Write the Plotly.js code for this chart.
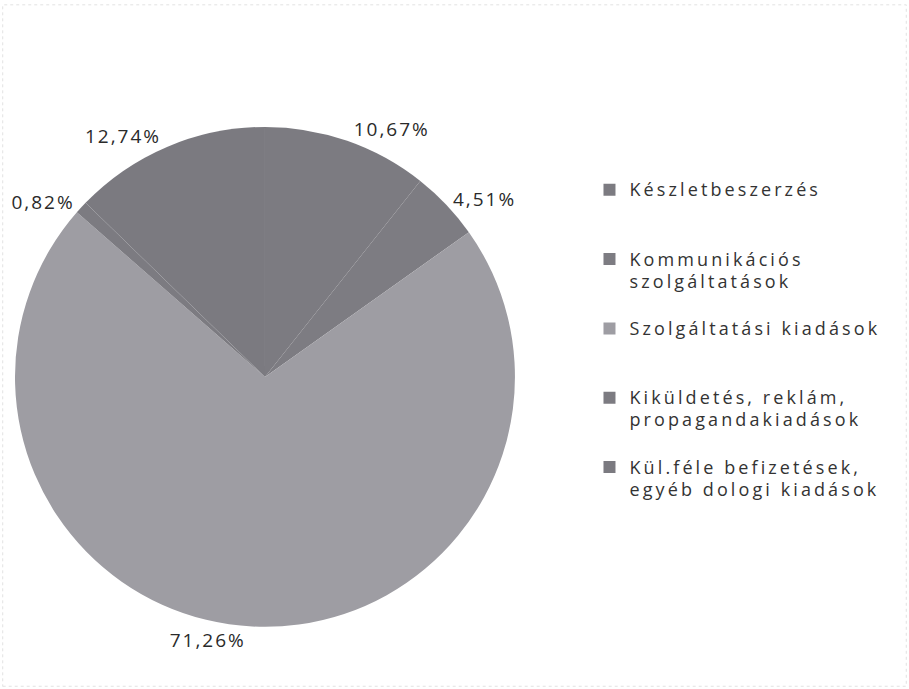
<!DOCTYPE html>
<html>
<head>
<meta charset="utf-8">
<script src="https://cdn.plot.ly/plotly-3.0.1.min.js"></script>
<style>
html,body{margin:0;padding:0;background:#fff;}
#chart{width:909px;height:689px;}
.legendtext{letter-spacing:3.1px;}
text.slicetext{letter-spacing:2px;}
</style>
</head>
<body>
<div id="chart"></div>
<script>
const categories = [
  "Készletbeszerzés",
  "Kommunikációs<br>szolgáltatások",
  "Szolgáltatási kiadások",
  "Kiküldetés, reklám,<br>propagandakiadások",
  "Kül.féle befizetések,<br>egyéb dologi kiadások"
];
const shares = [10.67, 4.51, 71.26, 0.82, 12.74];
const sliceColors = ["#7c7b81", "#7d7c82", "#9e9da3", "#7c7b81", "#7b7a80"];

// pad every legend entry to three text lines so the entries are spread like the original
const legendLabels = categories.map(function (c) {
  const parts = c.split("<br>");
  let s = parts.map(function (p) { return "<span style=\"font-size:18px\">" + p + "</span>"; }).join("<br>");
  for (let i = parts.length; i < 3; i++) s += "<br>\u00a0";
  return s;
});

const trace = {
  type: "pie",
  labels: legendLabels,
  values: shares,
  sort: false,
  direction: "clockwise",
  rotation: 0,
  marker: {colors: sliceColors, line: {width: 0}},
  textposition: "outside",
  texttemplate: "%{value:.2f}%",
  outsidetextfont: {family: "Open Sans, DejaVu Sans, sans-serif", size: 19, color: "#2a2a2a"},
  hoverinfo: "percent",
  domain: {x: [0.0165, 0.5665], y: [0.09, 0.816]}
};

const layout = {
  width: 909,
  height: 689,
  margin: {l: 0, r: 0, t: 0, b: 0},
  paper_bgcolor: "#ffffff",
  separators: ", ",
  showlegend: true,
  legend: {
    x: 0.6485, xanchor: "left",
    y: 0.75, yanchor: "top",
    valign: "top",
    font: {family: "Open Sans, DejaVu Sans, sans-serif", size: 17, color: "#333333"},
    itemwidth: 30,
    bgcolor: "rgba(0,0,0,0)"
  },
  shapes: [{
    type: "rect", xref: "paper", yref: "paper",
    x0: 0.003, x1: 0.997, y0: 0.004, y1: 0.993,
    line: {color: "#e2e2e2", width: 1, dash: "dot"}
  }]
};

Plotly.newPlot("chart", [trace], layout, {displayModeBar: false, staticPlot: true});
</script>
</body>
</html>
